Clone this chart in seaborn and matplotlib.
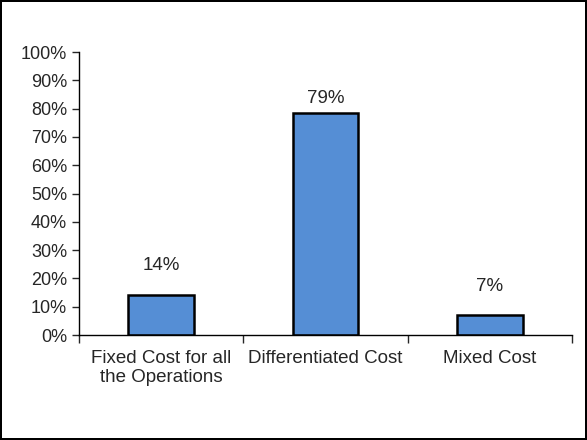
import seaborn as sns
import matplotlib.pyplot as plt
import pandas as pd
from matplotlib.ticker import FixedLocator, PercentFormatter

# chart data
categories = ['Fixed Cost for all\nthe Operations', 'Differentiated Cost', 'Mixed Cost']
shares = [14.3, 78.6, 7.1]
bar_labels = ['14%', '79%', '7%']
label_offsets = [15, 4, 14]  # points above bar top, like the original placement

df = pd.DataFrame({'Cost': categories, 'Share': shares})

sns.set_style('white')
plt.rcParams['font.family'] = ['Liberation Sans', 'DejaVu Sans']

fig = plt.figure(figsize=(5.87, 4.40), dpi=100)
fig.patch.set_edgecolor('black')
fig.patch.set_linewidth(1.5)
ax = fig.add_axes([0.1346, 0.2386, 0.84, 0.6432])

sns.barplot(data=df, x='Cost', y='Share', color='#558ED5', width=0.4,
            edgecolor='black', linewidth=1.8, saturation=1, ax=ax)

for p, lab, off in zip(ax.patches, bar_labels, label_offsets):
    ax.annotate(lab, (p.get_x() + p.get_width() / 2, p.get_height()),
                xytext=(0, off), textcoords='offset points',
                ha='center', va='bottom', fontsize=13.5)

ax.set_ylim(0, 100)
ax.set_xlim(-0.5, 2.5)
ax.set_yticks(range(0, 101, 10))
ax.yaxis.set_major_formatter(PercentFormatter(decimals=0))
ax.xaxis.set_minor_locator(FixedLocator([-0.5, 0.5, 1.5, 2.5]))
ax.tick_params(axis='x', which='major', length=0, labelsize=13.5, pad=11)
ax.tick_params(axis='x', which='minor', length=6, width=1, direction='out', bottom=True)
ax.tick_params(axis='y', length=5, width=1, direction='out', left=True, labelsize=13)
for t in ax.get_xticklabels():
    t.set_linespacing(1.1)
ax.set_xlabel('')
ax.set_ylabel('')

sns.despine(ax=ax)
for s in ['left', 'bottom']:
    ax.spines[s].set_color('black')
    ax.spines[s].set_linewidth(1)

fig.savefig('out.png', dpi=100)
